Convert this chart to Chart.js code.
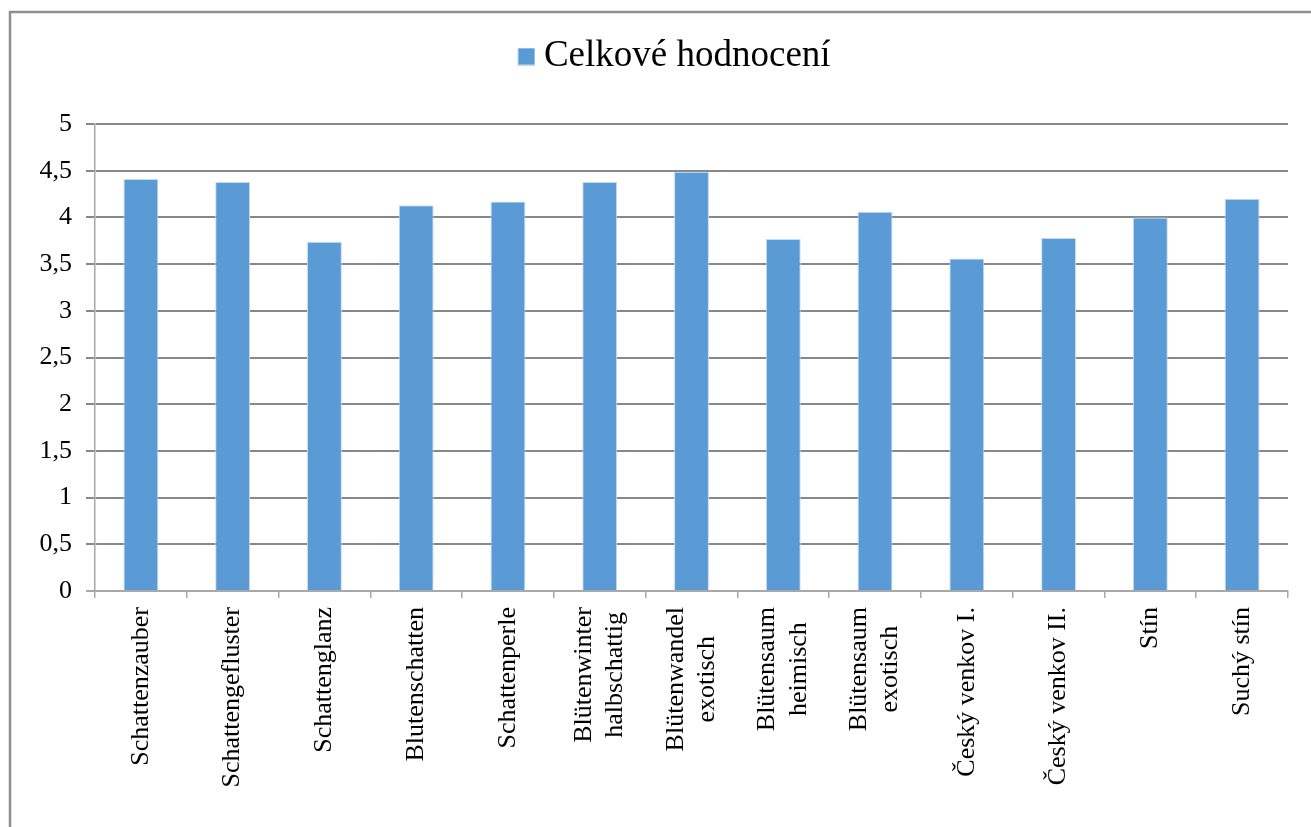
<!DOCTYPE html>
<html lang="cs">
<head>
<meta charset="utf-8">
<title>Celkové hodnocení</title>
<script src="https://cdn.jsdelivr.net/npm/chart.js@4.4.1/dist/chart.umd.min.js"></script>
<style>
  html, body { margin: 0; padding: 0; background: #fff; }
  #wrap { position: relative; width: 1311px; height: 827px; }
</style>
</head>
<body>
<div id="wrap"><canvas id="hodnoceni"></canvas></div>
<script>
// zahrady – celkové hodnocení
const categories = [
    'Schattenzauber',
    'Schattengefluster',
    'Schattenglanz',
    'Blutenschatten',
    'Schattenperle',
    ['Blütenwinter', 'halbschattig'],
    ['Blütenwandel', 'exotisch'],
    ['Blütensaum', 'heimisch'],
    ['Blütensaum', 'exotisch'],
    'Český venkov I.',
    'Český venkov II.',
    'Stín',
    'Suchý stín'
];
const scores = [4.41, 4.38, 3.74, 4.13, 4.17, 4.38, 4.49, 3.77, 4.06, 3.56, 3.78, 4.0, 4.2];
const yTickLabels = ['0', '0,5', '1', '1,5', '2', '2,5', '3', '3,5', '4', '4,5', '5'];
const seriesName = 'Celkové hodnocení';

const FONT = "'Liberation Serif', 'Times New Roman', serif";
const BAR_COLOR = '#5B9BD5';
const BAR_EDGE = '#c6dbef';
const GRID_COLOR = '#888888';
const AXIS_COLOR = '#a8a8a8';

// legend marker: square sits at the right of the image so it hugs the text
const makeMarker = () => {
    const c = document.createElement('canvas');
    c.width = 38;
    c.height = 18;
    const g = c.getContext('2d');
    g.fillStyle = BAR_COLOR;
    g.fillRect(20, 0, 18, 18);
    g.strokeStyle = BAR_EDGE;
    g.lineWidth = 1;
    g.strokeRect(20.5, 0.5, 17, 17);
    return c;
};

// white page + grey frame on the left and top
const framePlugin = {
    id: 'frame',
    beforeDraw(chart) {
        const { ctx, width, height } = chart;
        ctx.save();
        ctx.fillStyle = '#fff';
        ctx.fillRect(0, 0, width, height);
        ctx.strokeStyle = '#8e8e8e';
        ctx.lineWidth = 2.5;
        ctx.beginPath();
        ctx.moveTo(10, height);
        ctx.lineTo(10, 12);
        ctx.lineTo(width, 12);
        ctx.stroke();
        ctx.restore();
    }
};

// legend floats higher (and a bit right) of its layout slot
const LEGEND_SHIFT = { x: 7, y: -39 };
const moveLegend = {
    id: 'moveLegend',
    afterLayout(chart) {
        const lg = chart.legend;
        if (lg) {
            lg.left += LEGEND_SHIFT.x;
            lg.right += LEGEND_SHIFT.x;
            lg.top += LEGEND_SHIFT.y;
            lg.bottom += LEGEND_SHIFT.y;
        }
    }
};

// rotated category labels: lines centred on each other and on the tick
const centerLabels = {
    id: 'centerLabels',
    afterLayout(chart) {
        const scale = chart.scales.x;
        const items = scale.getLabelItems(chart.chartArea);
        const ctx = chart.ctx;
        items.forEach(item => {
            const lines = Array.isArray(item.label) ? item.label : [item.label];
            ctx.save();
            ctx.font = item.font.string;
            const widest = Math.max(...lines.map(l => ctx.measureText(l).width));
            ctx.restore();
            const [tx, ty] = item.options.translation;
            item.options.translation = [tx - (lines.length - 1) * item.font.lineHeight / 2, ty + widest / 2];
            item.options.textAlign = 'center';
        });
    }
};

const ctx = document.getElementById('hodnoceni').getContext('2d');
new Chart(ctx, {
    type: 'bar',
    data: {
        labels: categories,
        datasets: [{
            label: seriesName,
            data: scores,
            backgroundColor: BAR_COLOR,
            borderColor: BAR_EDGE,
            borderWidth: 1,
            categoryPercentage: 1,
            barPercentage: 0.38
        }]
    },
    options: {
        responsive: true,
        maintainAspectRatio: false,
        animation: false,
        layout: { padding: { left: 36, right: 23, top: 67, bottom: 0 } },
        plugins: {
            legend: {
                position: 'top',
                labels: {
                    usePointStyle: true,
                    pointStyle: makeMarker(),
                    boxWidth: 18,
                    boxHeight: 18,
                    padding: 10,
                    color: '#000',
                    font: { family: FONT, size: 37 }
                }
            },
            tooltip: { enabled: false }
        },
        scales: {
            x: {
                afterFit: (scale) => { scale.height = 236; },
                grid: {
                    drawOnChartArea: false,
                    drawTicks: true,
                    tickLength: 7,
                    color: AXIS_COLOR,
                    lineWidth: 1.5
                },
                border: { color: AXIS_COLOR, width: 1.5 },
                ticks: {
                    autoSkip: false,
                    minRotation: 90,
                    maxRotation: 90,
                    padding: 9,
                    color: '#000',
                    font: { family: FONT, size: 26, lineHeight: 1.2 }
                }
            },
            y: {
                min: 0,
                max: 5,
                afterFit: (scale) => { scale.width = 59; },
                grid: {
                    color: (c) => (c.tick && c.tick.value === 0 ? AXIS_COLOR : GRID_COLOR),
                    lineWidth: 2,
                    tickLength: 9
                },
                border: { color: AXIS_COLOR, width: 1.5 },
                ticks: {
                    stepSize: 0.5,
                    padding: 14,
                    color: '#000',
                    font: { family: FONT, size: 26 },
                    callback: (value) => yTickLabels[Math.round(value * 2)]
                }
            }
        }
    },
    plugins: [framePlugin, moveLegend, centerLabels]
});
</script>
</body>
</html>
